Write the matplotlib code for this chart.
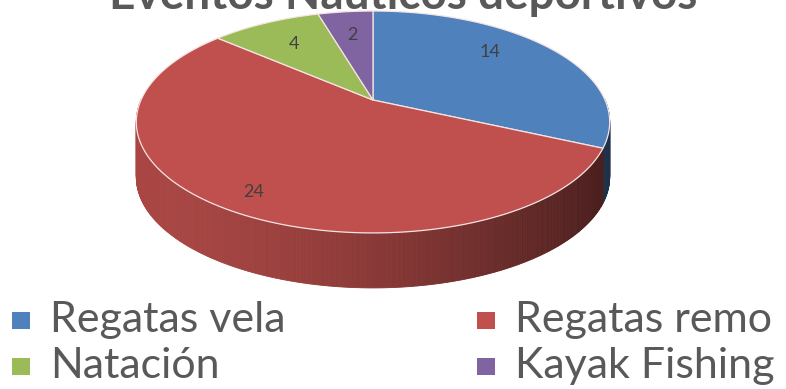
import matplotlib
matplotlib.use("Agg")
import matplotlib.pyplot as plt
from matplotlib.patches import Polygon, Rectangle
import numpy as np

categories = ["Regatas vela", "Regatas remo", "Natación", "Kayak Fishing"]
values = [14, 24, 4, 2]
colors = ["#4f81bd", "#c0504d", "#9bbb59", "#8064a2"]
title = "Eventos Náuticos deportivos"

TEXT = "#595959"
LABEL = "#404040"
FONT = ["Lato", "DejaVu Sans"]

# perspective of the tilted disc (pixels, y grows downward)
X0, Y0 = 373.0, 100.0     # pie centre on screen
A, B = 232.0, 106.6       # horizontal / vertical radius
K = 0.198                 # foreshortening of the far half
DEPTH = 55.0              # wall height

# label placement (radius in disc units, extra turn in degrees)
LABEL_R = [0.74, 0.86, 0.70, 0.70]
LABEL_TURN = [9, 2, 0, 0]


def proj(x, y, z=0.0):
    s = 1.0 / (1.0 + K * y)
    return X0 + A * x * s, Y0 - B * y * s + DEPTH * z


def rim(deg, z=0.0):
    t = np.radians(deg)
    return proj(np.cos(t), np.sin(t), z)


def shade(hexcol, f):
    c = np.array(matplotlib.colors.to_rgb(hexcol))
    return tuple(np.clip(c * f, 0, 1))


fig = plt.figure(figsize=(7.86, 3.89), dpi=100)
ax = fig.add_axes([0, 0, 1, 1])
ax.set_xlim(0, 786)
ax.set_ylim(389, 0)
ax.axis("off")

# slice angles come from matplotlib's own pie layout
helper = fig.add_axes([0, 0, 0.01, 0.01])
wedges, _ = helper.pie(values, startangle=90, counterclock=False)
spans = [(w.theta1, w.theta2) for w in wedges]
helper.remove()

xl = X0 - A * 1.02
xr = X0 + A * 1.02

# front wall, drawn as thin shaded strips
for (t1, t2), col in zip(spans, colors):
    ts = np.arange(t1, t2 + 0.25, 0.5)
    ts[-1] = min(ts[-1], t2)
    for a, b in zip(ts[:-1], ts[1:]):
        mid = np.radians((a + b) / 2)
        if np.sin(mid) > 0.02:
            continue
        p1, p2 = rim(a), rim(b)
        p3, p4 = rim(b, 1.0), rim(a, 1.0)
        u = np.clip(((p1[0] + p2[0]) / 2 - xl) / (xr - xl), 0, 1)
        f = 0.88 - 0.50 * u ** 1.6
        c = shade(col, f)
        ax.add_patch(Polygon([p1, p2, p3, p4], closed=True, facecolor=c,
                             edgecolor=c, lw=0.6, zorder=1))

# top faces
for (t1, t2), col in zip(spans, colors):
    ts = np.linspace(t1, t2, max(int((t2 - t1) * 2), 4))
    pts = [proj(0, 0)] + [rim(t) for t in ts]
    ax.add_patch(Polygon(pts, closed=True, facecolor=col,
                         edgecolor="#f6e4e2", lw=0.9, zorder=2))

# value labels
for (t1, t2), v, r, dt in zip(spans, values, LABEL_R, LABEL_TURN):
    t = np.radians((t1 + t2) / 2 + dt)
    lx, ly = proj(r * np.cos(t), r * np.sin(t))
    ax.text(lx, ly, str(v), ha="center", va="center", fontsize=13,
            color=LABEL, family=FONT, zorder=3)

# title, running off the top edge
ax.text(403, 9, title, ha="center", va="baseline", fontsize=33,
        fontweight="bold", color=TEXT, family=FONT)

# legend in two columns
leg_x = [12, 477]
leg_y = [320, 366]
order = [0, 2, 1, 3]
for slot, i in enumerate(order):
    col_i, row_i = slot // 2, slot % 2
    x, y = leg_x[col_i], leg_y[row_i]
    ax.add_patch(Rectangle((x, y - 8), 18, 17, facecolor=colors[i],
                           edgecolor="none"))
    ax.text(x + 38, y + 12, categories[i], ha="left", va="baseline",
            fontsize=31, color=TEXT, family=FONT)

fig.savefig("out.png", dpi=100)
